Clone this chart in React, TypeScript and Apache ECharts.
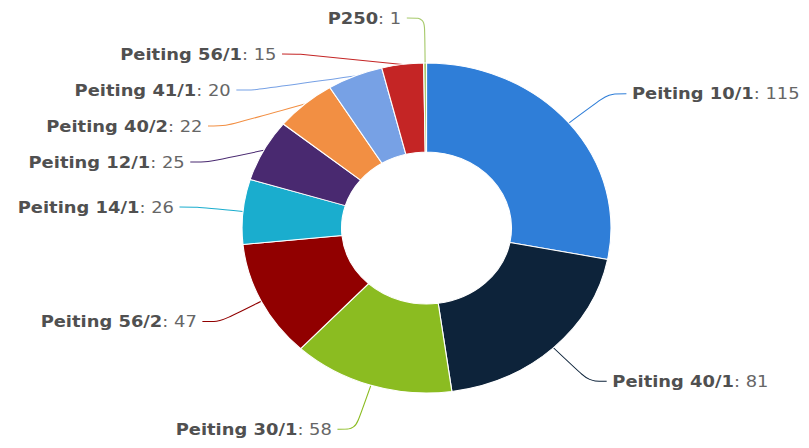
import React, { useEffect, useRef } from "react";
import * as echarts from "echarts";

const categories = [
  "Peiting 10/1",
  "Peiting 40/1",
  "Peiting 30/1",
  "Peiting 56/2",
  "Peiting 14/1",
  "Peiting 12/1",
  "Peiting 40/2",
  "Peiting 41/1",
  "Peiting 56/1",
  "P250",
];
const values = [115, 81, 58, 47, 26, 25, 22, 20, 15, 1];
const colors = [
  "#2f7ed8",
  "#0d233a",
  "#8bbc21",
  "#910000",
  "#1aadce",
  "#492970",
  "#f28f43",
  "#77a1e5",
  "#c42525",
  "#a6c96a",
];

const SCALE_X = 1.118;
const W = 809;
const H = 448;

export default function App() {
  const ref = useRef<HTMLDivElement>(null);
  useEffect(() => {
    if (!ref.current) return;
    const chart = echarts.init(ref.current, undefined, { renderer: "svg" });
    chart.setOption({
      animation: false,
      backgroundColor: "#ffffff",
      series: [
        {
          type: "pie",
          center: [381.5, 228],
          radius: [76, 165],
          startAngle: 90,
          clockwise: true,
          avoidLabelOverlap: true,
          data: categories.map((c, i) => ({
            name: c,
            value: values[i],
            itemStyle: { color: colors[i] },
          })),
          itemStyle: { borderColor: "#ffffff", borderWidth: 1 },
          label: {
            show: true,
            position: "outside",
            overflow: "none",
            formatter: "{n|{b}}{v|: {c}}",
            fontFamily: "DejaVu Sans",
            lineHeight: 34,
            rich: {
              n: {
                fontFamily: "DejaVu Sans",
                fontWeight: "bold",
                fontSize: 16,
                lineHeight: 34,
                color: "#505050",
              },
              v: {
                fontFamily: "DejaVu Sans",
                fontSize: 16,
                lineHeight: 34,
                color: "#666666",
              },
            },
          },
          labelLine: {
            show: true,
            length: 46,
            length2: 16,
            smooth: 0.3,
            lineStyle: { width: 1 },
          },
          emphasis: { disabled: true },
        },
      ],
    });
    return () => chart.dispose();
  }, []);
  return (
    <div
      style={{
        position: "fixed",
        left: 0,
        top: 0,
        width: W,
        height: H,
        overflow: "hidden",
        background: "#ffffff",
      }}
    >
      <div
        ref={ref}
        style={{
          width: Math.round(W / SCALE_X),
          height: H,
          transform: `scaleX(${SCALE_X})`,
          transformOrigin: "0 0",
        }}
      />
    </div>
  );
}
